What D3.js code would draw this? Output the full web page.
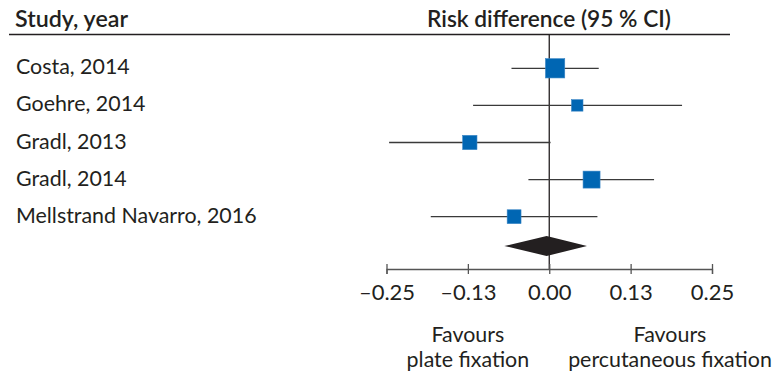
<!DOCTYPE html>
<html>
<head>
<meta charset="utf-8">
<script src="https://cdn.jsdelivr.net/npm/d3@7"></script>
<style>
	body { margin: 0; background: #fff; }
	text { font-family: Lato, "Open Sans", sans-serif; fill: #231f20; }
</style>
</head>
<body>
<div id="chart"></div>
<script>
// study rows
var studies = ["Costa, 2014", "Goehre, 2014", "Gradl, 2013", "Gradl, 2014", "Mellstrand Navarro, 2016"];
var estimates = [0.009, 0.043, -0.122, 0.065, -0.054];
var lowers = [-0.058, -0.117, -0.246, -0.032, -0.182];
var uppers = [0.076, 0.204, 0.002, 0.161, 0.074];
var weights = [31, 11, 17, 24, 16];

// pooled estimate (diamond): lower, point, upper
var pooled = [-0.069, -0.004, 0.058];

var tickValues = [-0.25, -0.125, 0, 0.125, 0.25];
var tickLabels = ["\u20130.25", "\u20130.13", "0.00", "0.13", "0.25"];
var favourLabels = [["Favours", "plate fixation"], ["Favours", "percutaneous fixation"]];

var Chart = function(){
	var self = this;
	var svg = d3.select("#chart").append("svg")
		.attr("width", 777)
		.attr("height", 377);

	var x = d3.scaleLinear().domain([-0.25, 0.25]).range([386.5, 712]);
	var y = d3.scalePoint().domain(studies).range([68.3, 216.7]);
	var size = d3.scaleSqrt().domain([0, d3.max(weights)]).range([0, 19.3]);
	var diamondY = 246, axisY = 269;

	var rows = studies.map(function(s, i){
		return {name: s, est: estimates[i], lo: lowers[i], hi: uppers[i], w: weights[i]};
	});

	self.drawHeader = function(){
		svg.append("text").attr("x", 15).attr("y", 27)
			.style("font-size", "22px").style("font-weight", 600)
			.attr("textLength", 113).attr("lengthAdjust", "spacingAndGlyphs")
			.text("Study, year");
		svg.append("text").attr("x", 427).attr("y", 27)
			.style("font-size", "22px").style("font-weight", 600)
			.attr("textLength", 244).attr("lengthAdjust", "spacingAndGlyphs")
			.text("Risk difference (95 % CI)");
		svg.append("line")
			.attr("x1", 9).attr("x2", 730)
			.attr("y1", 34.5).attr("y2", 34.5)
			.attr("stroke", "#231f20").attr("stroke-width", 1.5);
	}

	self.drawRows = function(){
		svg.selectAll("text.study").data(rows).enter().append("text")
			.attr("class", "study")
			.attr("x", 16)
			.attr("y", function(d){ return y(d.name) + 6; })
			.style("font-size", "21.4px")
			.text(function(d){ return d.name; });

		svg.append("line")
			.attr("x1", x(0)).attr("x2", x(0))
			.attr("y1", 34.5).attr("y2", axisY)
			.attr("stroke", "#231f20").attr("stroke-width", 1.3);

		svg.selectAll("line.ci").data(rows).enter().append("line")
			.attr("class", "ci")
			.attr("x1", function(d){ return x(d.lo); })
			.attr("x2", function(d){ return x(d.hi); })
			.attr("y1", function(d){ return y(d.name); })
			.attr("y2", function(d){ return y(d.name); })
			.attr("stroke", "#3a3a3a").attr("stroke-width", 1.3);

		svg.selectAll("rect.box").data(rows).enter().append("rect")
			.attr("class", "box")
			.attr("x", function(d){ return x(d.est) - size(d.w) / 2; })
			.attr("y", function(d){ return y(d.name) - size(d.w) / 2; })
			.attr("width", function(d){ return size(d.w); })
			.attr("height", function(d){ return size(d.w); })
			.attr("fill", "#0066b3")
			.attr("stroke", "#3a86c6").attr("stroke-width", 0.6);

		var pts = [[x(pooled[0]), diamondY], [x(pooled[1]), diamondY - 10],
			[x(pooled[2]), diamondY], [x(pooled[1]), diamondY + 10]];
		svg.append("path")
			.attr("d", "M" + pts.join("L") + "Z")
			.attr("fill", "#231f20");
	}

	self.drawAxis = function(){
		var axis = d3.axisBottom(x)
			.tickValues(tickValues)
			.tickSizeOuter(0)
			.tickSize(5)
			.tickFormat(function(d, i){ return tickLabels[i]; });
		var g = svg.append("g").attr("transform", "translate(0," + axisY + ")").call(axis);
		g.select(".domain").attr("stroke", "#555").attr("stroke-width", 1.3);
		g.selectAll(".tick line").attr("y1", -5).attr("stroke", "#555").attr("stroke-width", 1.3);
		g.selectAll(".tick text")
			.attr("y", 31).attr("dy", 0)
			.style("font-size", "22px")
			.style("font-family", "Lato, 'Open Sans', sans-serif")
			.attr("fill", "#231f20");

		var centers = [x(-0.125), 670];
		favourLabels.forEach(function(lines, i){
			lines.forEach(function(t, j){
				svg.append("text")
					.attr("x", centers[i]).attr("y", 342 + j * 25)
					.attr("text-anchor", "middle")
					.style("font-size", "21.4px")
					.text(t);
			});
		});
	}

	self.drawHeader();
	self.drawRows();
	self.drawAxis();
}
new Chart();
</script>
</body>
</html>
